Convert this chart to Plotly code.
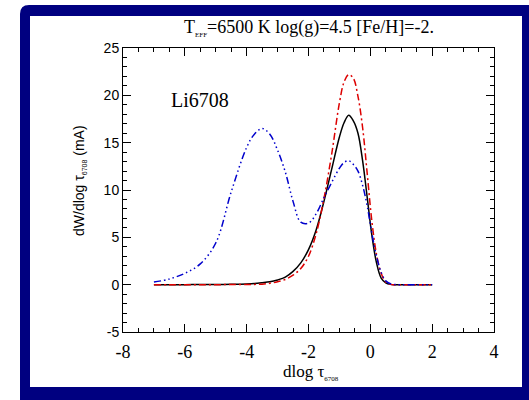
import plotly.graph_objects as go

# ---- data ----
x_vals = [-7, -6.5, -6, -5.5, -5, -4.5, -4, -3.75, -3.5, -3.25, -3, -2.75, -2.5, -2.25,
          -2, -1.75, -1.5, -1.25, -1, -0.85, -0.7, -0.55, -0.4, -0.25, -0.1, 0.05,
          0.2, 0.35, 0.5, 0.65, 0.8, 1.0, 1.5, 2.0]

black_vals = [0, 0, 0, 0.01, 0.02, 0.04, 0.08, 0.12, 0.2, 0.3, 0.5, 0.8, 1.4, 2.3,
              3.7, 5.8, 8.8, 12.2, 15.6, 17.1, 17.9, 17.3, 16.0, 13.1, 9.2, 5.2,
              2.3, 0.7, 0.2, 0.03, 0, 0, 0, 0]

red_vals = [0, 0, 0, 0, 0, 0.01, 0.02, 0.03, 0.05, 0.15, 0.3, 0.55, 1.0, 1.7,
            3.0, 5.4, 9.1, 13.8, 19.2, 21.4, 22.2, 21.8, 19.9, 16.6, 11.7, 6.7,
            3.2, 1.2, 0.27, 0.03, 0, 0, 0, 0]

blue_vals = [0.27, 0.6, 1.2, 2.2, 4.4, 9.8, 14.5, 15.9, 16.5, 15.9, 14.2, 11.9, 8.8, 6.6,
             6.5, 7.5, 9.2, 10.8, 12.3, 12.9, 13.1, 12.7, 12.0, 10.5, 8.3, 5.4,
             3.0, 1.3, 0.4, 0.1, 0.02, 0, 0, 0]

x_ticks = [-8, -6, -4, -2, 0, 2, 4]
y_ticks = [-5, 0, 5, 10, 15, 20, 25]

SERIF = "Liberation Serif"
SANS = "Liberation Sans"
NAVY = "#000080"

fig = go.Figure()
fig.add_trace(go.Scatter(x=x_vals, y=black_vals, mode="lines", line_shape="spline",
                         line=dict(color="black", width=1.5), showlegend=False))
fig.add_trace(go.Scatter(x=x_vals, y=red_vals, mode="lines", line_shape="spline",
                         line=dict(color="#dd0000", width=1.5, dash="7px,3px,2px,3px"),
                         showlegend=False))
fig.add_trace(go.Scatter(x=x_vals, y=blue_vals, mode="lines", line_shape="spline",
                         line=dict(color="#0000cc", width=1.5,
                                   dash="7px,3px,1.5px,3px,1.5px,3px,1.5px,3px"),
                         showlegend=False))

L, R, T, B = 123, 35, 48, 68
W, H = 529, 400
pw, ph = W - L - R, H - T - B


def px(xp):
    return (xp - L) / pw


def py(yp):
    return (H - B - yp) / ph


# navy frame with rounded top-left corner
x0o, y1o = px(20), py(5)
x1o, y0o = px(540), py(410)
rx, ry = 9 / pw, 9 / ph
frame_path = (f"M {x0o},{y0o} L {x0o},{y1o - ry} Q {x0o},{y1o} {x0o + rx},{y1o} "
              f"L {x1o},{y1o} L {x1o},{y0o} Z")
shapes = [
    dict(type="path", xref="paper", yref="paper", path=frame_path,
         fillcolor=NAVY, line=dict(width=0), layer="below"),
    dict(type="rect", xref="paper", yref="paper", x0=px(30), x1=px(522),
         y0=py(387), y1=py(16), fillcolor="white", line=dict(width=0), layer="below"),
]

fig.update_layout(
    width=W, height=H,
    margin=dict(l=L, r=R, t=T, b=B),
    paper_bgcolor="white",
    plot_bgcolor="rgba(0,0,0,0)",
    shapes=shapes,
    xaxis=dict(range=[-8, 4], tickmode="array", tickvals=x_ticks,
               ticktext=[str(v) for v in x_ticks],
               ticks="inside", ticklen=8, tickcolor="black", tickwidth=1,
               minor=dict(ticks="inside", dtick=0.5, ticklen=4, tickcolor="black"),
               showline=True, linecolor="black", linewidth=1, mirror="ticks",
               showgrid=False, zeroline=False, ticklabelstandoff=3,
               tickfont=dict(family=SERIF, size=18, color="black")),
    yaxis=dict(range=[-5, 25], tickmode="array", tickvals=y_ticks,
               ticktext=[str(v) for v in y_ticks],
               ticks="inside", ticklen=8, tickcolor="black", tickwidth=1,
               minor=dict(ticks="inside", dtick=1, ticklen=4, tickcolor="black"),
               showline=True, linecolor="black", linewidth=1, mirror="ticks",
               showgrid=False, zeroline=False,
               tickfont=dict(family=SANS, size=14, color="black")),
    annotations=[
        dict(text="T<sub><span style='font-size:7px'>EFF</span></sub>=6500 K log(g)=4.5 [Fe/H]=-2.",
             xref="paper", yref="paper", x=0.5, y=py(28), xanchor="center", yanchor="middle",
             showarrow=False, font=dict(family=SERIF, size=18, color="black")),
        dict(text="dlog τ<sub><span style='font-size:7px'>6708</span></sub>",
             xref="paper", yref="paper", x=px(311), y=py(372), xanchor="center", yanchor="middle",
             showarrow=False, font=dict(family=SERIF, size=17, color="black")),
        dict(text="dW/dlog τ<sub><span style='font-size:7px'>6708</span></sub> (mA)",
             xref="paper", yref="paper", x=px(79), y=py(181), xanchor="center", yanchor="middle",
             textangle=-90, showarrow=False, font=dict(family=SANS, size=14, color="black")),
        dict(text="Li6708", xref="x", yref="y", x=-5.52, y=19.5, xanchor="center",
             yanchor="middle", showarrow=False, font=dict(family=SERIF, size=20, color="black")),
    ],
)

fig.write_html("out.html")
